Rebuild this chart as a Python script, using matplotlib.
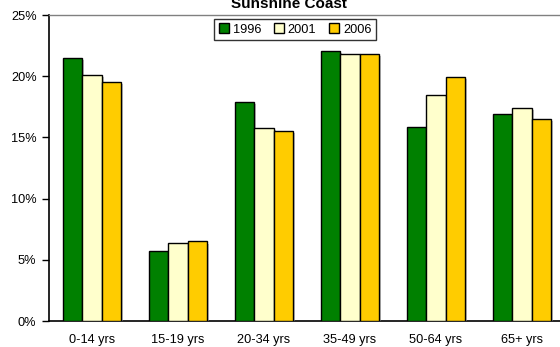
import matplotlib
matplotlib.use("Agg")
import matplotlib.pyplot as plt
import matplotlib.patheffects as pe
import numpy as np

plt.rcParams['font.family'] = ['Liberation Sans', 'DejaVu Sans']

categories = ["0-14 yrs", "15-19 yrs", "20-34 yrs", "35-49 yrs", "50-64 yrs", "65+ yrs"]
years = ["1996", "2001", "2006"]
share_1996 = [21.5, 5.75, 17.9, 22.05, 15.85, 16.9]
share_2001 = [20.1, 6.35, 15.8, 21.8, 18.5, 17.4]
share_2006 = [19.55, 6.5, 15.55, 21.8, 19.95, 16.5]
colors = ["#008000", "#FFFFCC", "#FFCC00"]

W, H = 560, 347
fig = plt.figure(figsize=(W / 100, H / 100), dpi=100)
ax = fig.add_axes([49 / W, (H - 321) / H, 516 / W, (321 - 15) / H])

x = np.arange(len(categories))
bw = 0.225
shadow = [pe.SimplePatchShadow(offset=(1.5, -1.5), shadow_rgbFace="#999999", alpha=0.6), pe.Normal()]
for i, (vals, c, lab) in enumerate(zip([share_1996, share_2001, share_2006], colors, years)):
    bars = ax.bar(x + (i - 1) * bw, vals, bw, color=c, edgecolor="black", linewidth=1.0, label=lab, zorder=3)
    for b in bars:
        b.set_path_effects(shadow)

ax.set_xlim(-0.5, 5.5)
ax.set_ylim(0, 25)
ax.set_yticks([0, 5, 10, 15, 20, 25])
ax.set_yticklabels(["0%", "5%", "10%", "15%", "20%", "25%"], fontsize=9.2)
ax.set_xticks(x)
ax.set_xticklabels(categories, fontsize=9.2)
ax.tick_params(axis="x", length=0, pad=9)
ax.tick_params(axis="y", length=5, width=1, direction="out", pad=4)

for s in ["left", "bottom"]:
    ax.spines[s].set_color("black")
    ax.spines[s].set_linewidth(1.2)
ax.spines["top"].set_color("#808080")
ax.spines["top"].set_linewidth(1.0)
ax.spines["right"].set_visible(False)

fig.text(289 / W, 1 - 8 / H, "Sunshine Coast", ha="center", va="baseline", fontsize=11, fontweight="bold")

leg = ax.legend(ncol=3, loc="center", bbox_to_anchor=((295 - 49) / 516, (321 - 29.5) / 306),
                frameon=True, fancybox=False, fontsize=9.2, handlelength=0.8, handleheight=0.8,
                handletextpad=0.3, columnspacing=1.0, borderpad=0.35, edgecolor="black")
leg.get_frame().set_linewidth(1.0)
for h in leg.legend_handles:
    h.set_path_effects([pe.Normal()])

fig.savefig("out.png", dpi=100)
